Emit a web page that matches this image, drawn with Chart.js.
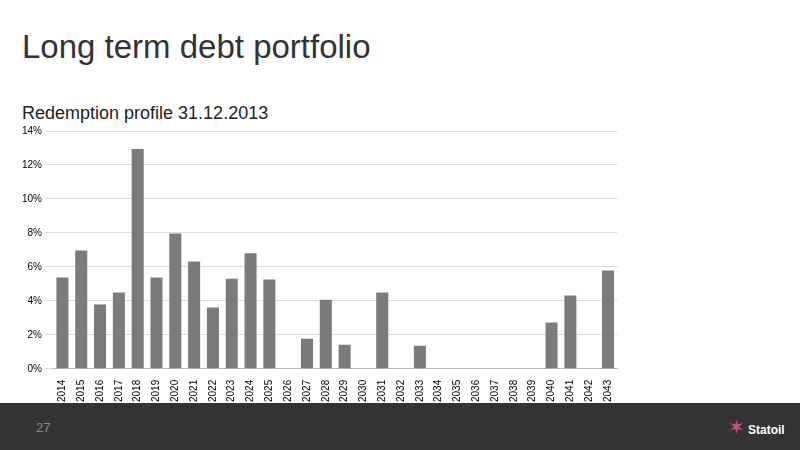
<!DOCTYPE html>
<html><head>
<script src="https://cdn.jsdelivr.net/npm/chart.js@4"></script>
<style>
body{margin:0;width:800px;height:450px;background:#fff;font-family:Arial,"Liberation Sans",sans-serif;position:relative;overflow:hidden}
#title{position:absolute;left:22px;top:28px;font-size:33px;color:#333}
#sub{position:absolute;left:22px;top:103px;font-size:18px;color:#222}
#wrap{position:absolute;left:19px;top:122px;width:604px;height:283px}
#foot{position:absolute;left:0;top:403px;width:800px;height:47px;background:#333}
#pg{position:absolute;left:36px;top:17px;font-size:13px;color:#888}
#logo{position:absolute;left:748px;top:20px;font-size:12px;color:#fff;font-weight:bold}
</style></head><body>
<div id="title">Long term debt portfolio</div>
<div id="sub">Redemption profile 31.12.2013</div>
<div id="wrap"><canvas id="c"></canvas></div>
<div id="foot"><div id="pg">27</div><div style="position:absolute;left:728px;top:12px;color:#d44d90;font-size:20px">✶</div><div id="logo">Statoil</div></div>
<script>
var years = ['2014','2015','2016','2017','2018','2019','2020','2021','2022','2023','2024','2025','2026','2027','2028','2029','2030','2031','2032','2033','2034','2035','2036','2037','2038','2039','2040','2041','2042','2043'];
var share = [5.37,6.97,3.78,4.49,12.94,5.37,7.97,6.32,3.6,5.3,6.8,5.26,0,1.77,4.07,1.42,0,4.49,0,1.36,0,0,0,0,0,0,2.72,4.31,0,5.79];
new Chart(document.getElementById('c'), {
    type: 'bar',
    data: {labels: years, datasets: [{data: share, backgroundColor: '#7b7b7b', categoryPercentage: 0.64, barPercentage: 1}]},
    options: {
        responsive: true, maintainAspectRatio: false, animation: false,
        plugins: {legend: {display: false}, tooltip: {enabled: false}},
        scales: {
            x: {grid: {display: false}, border: {color: '#bbb'},
                ticks: {color: '#000', font: {size: 10}, minRotation: 90, maxRotation: 90, autoSkip: false}},
            y: {min: 0, max: 14, ticks: {stepSize: 2, color: '#000', font: {size: 10}, callback: function(v) { return v + '%'; }},
                grid: {color: '#ddd'}, border: {display: false}}
        }
    }
});
</script>
</body></html>
